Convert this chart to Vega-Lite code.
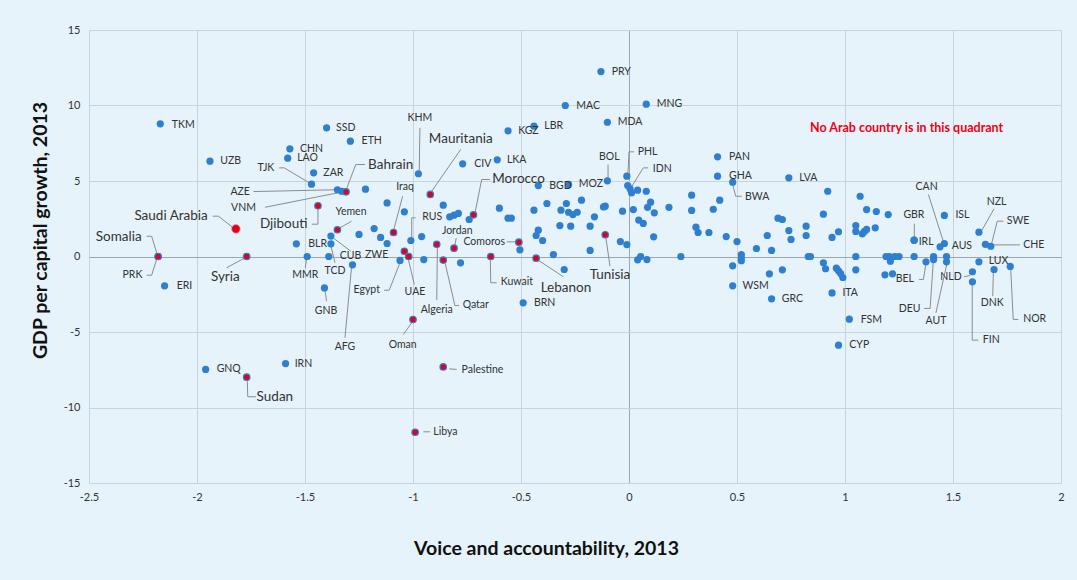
{
"$schema":"https://vega.github.io/schema/vega-lite/v6.json",
"width":972,"height":453,
"autosize":{"type":"none"},
"padding":{"left":89,"top":30,"right":16,"bottom":97},
"config":{"background":"#e6f3fb","view":{"stroke":null,"fill":"#e6f3fb"},"font":"Lato"},
"datasets":{
"points":[
{"c":"TKM","x":-2.17,"y":8.79,"a":false},{"c":"UZB","x":-1.94,"y":6.31,"a":false},{"c":"SSD","x":-1.40,"y":8.52,"a":false},{"c":"ETH","x":-1.29,"y":7.64,"a":false},{"c":"CHN","x":-1.57,"y":7.13,"a":false},{"c":"LAO","x":-1.58,"y":6.51,"a":false},{"c":"ZAR","x":-1.46,"y":5.54,"a":false},{"c":"TJK","x":-1.47,"y":4.79,"a":false},{"c":"AZE","x":-1.35,"y":4.42,"a":false},{"c":"VNM","x":-1.33,"y":4.32,"a":false},{"c":"PRK","x":-2.18,"y":0,"a":false},{"c":"ERI","x":-2.15,"y":-1.94,"a":false},{"c":"BLR","x":-1.54,"y":0.84,"a":false},{"c":"CUB","x":-1.38,"y":1.35,"a":false},{"c":"TCD","x":-1.38,"y":0.84,"a":false},{"c":"MMR","x":-1.49,"y":0,"a":false},{"c":"ZWE","x":-1.39,"y":0,"a":false},{"c":"AFG","x":-1.28,"y":-0.55,"a":false},{"c":"GNB","x":-1.41,"y":-2.08,"a":false},{"c":"GNQ","x":-1.96,"y":-7.48,"a":false},{"c":"IRN","x":-1.59,"y":-7.09,"a":false},{"c":"KHM","x":-0.975,"y":5.48,"a":false},{"c":"RUS","x":-1.01,"y":1.06,"a":false},{"c":"CIV","x":-0.77,"y":6.14,"a":false},{"c":"LKA","x":-0.61,"y":6.40,"a":false},{"c":"KGZ","x":-0.56,"y":8.32,"a":false},{"c":"LBR","x":-0.44,"y":8.63,"a":false},{"c":"MAC","x":-0.295,"y":10.0,"a":false},{"c":"MDA","x":-0.10,"y":8.89,"a":false},{"c":"PRY","x":-0.13,"y":12.25,"a":false},{"c":"MNG","x":0.08,"y":10.09,"a":false},{"c":"BGD","x":-0.42,"y":4.70,"a":false},{"c":"MOZ","x":-0.28,"y":4.77,"a":false},{"c":"BOL","x":-0.10,"y":5.01,"a":false},{"c":"PHL","x":-0.01,"y":5.32,"a":false},{"c":"IDN","x":0.005,"y":4.48,"a":false},{"c":"BRN","x":-0.49,"y":-3.07,"a":false},{"c":"PAN","x":0.41,"y":6.60,"a":false},{"c":"GHA","x":0.41,"y":5.32,"a":false},{"c":"BWA","x":0.48,"y":4.92,"a":false},{"c":"LVA","x":0.74,"y":5.21,"a":false},{"c":"WSM","x":0.48,"y":-1.94,"a":false},{"c":"GRC","x":0.66,"y":-2.80,"a":false},{"c":"ITA","x":0.94,"y":-2.41,"a":false},{"c":"FSM","x":1.02,"y":-4.15,"a":false},{"c":"CYP","x":0.97,"y":-5.87,"a":false},{"c":"GBR","x":1.32,"y":1.08,"a":false},{"c":"IRL","x":1.32,"y":1.08,"a":false},{"c":"BEL","x":1.375,"y":-0.35,"a":false},{"c":"DEU","x":1.41,"y":0,"a":false},{"c":"CAN","x":1.46,"y":0.86,"a":false},{"c":"AUS","x":1.44,"y":0.64,"a":false},{"c":"ISL","x":1.46,"y":2.72,"a":false},{"c":"AUT","x":1.47,"y":-0.35,"a":false},{"c":"NLD","x":1.59,"y":-1.01,"a":false},{"c":"FIN","x":1.59,"y":-1.68,"a":false},{"c":"LUX","x":1.62,"y":-0.35,"a":false},{"c":"NZL","x":1.62,"y":1.61,"a":false},{"c":"SWE","x":1.65,"y":0.81,"a":false},{"c":"CHE","x":1.675,"y":0.68,"a":false},{"c":"DNK","x":1.69,"y":-0.86,"a":false},{"c":"NOR","x":1.765,"y":-0.66,"a":false},
{"c":"","x":-1.22,"y":4.46,"a":false},{"c":"","x":-1.12,"y":3.55,"a":false},{"c":"","x":-1.04,"y":2.96,"a":false},{"c":"","x":-0.86,"y":3.40,"a":false},{"c":"","x":-0.83,"y":2.63,"a":false},{"c":"","x":-0.81,"y":2.74,"a":false},{"c":"","x":-0.79,"y":2.85,"a":false},{"c":"","x":-0.74,"y":2.45,"a":false},{"c":"","x":-0.60,"y":3.20,"a":false},{"c":"","x":-1.25,"y":1.46,"a":false},{"c":"","x":-1.18,"y":1.85,"a":false},{"c":"","x":-1.15,"y":1.26,"a":false},{"c":"","x":-1.12,"y":0.86,"a":false},{"c":"","x":-0.96,"y":1.32,"a":false},{"c":"","x":-0.95,"y":-0.20,"a":false},{"c":"","x":-0.78,"y":-0.42,"a":false},{"c":"","x":-1.06,"y":-0.26,"a":false},{"c":"","x":-0.56,"y":2.54,"a":false},{"c":"","x":-0.545,"y":2.54,"a":false},{"c":"","x":-0.44,"y":3.07,"a":false},{"c":"","x":-0.38,"y":3.51,"a":false},{"c":"","x":-0.32,"y":2.05,"a":false},{"c":"","x":-0.315,"y":3.07,"a":false},{"c":"","x":-0.29,"y":3.51,"a":false},{"c":"","x":-0.28,"y":2.93,"a":false},{"c":"","x":-0.26,"y":2.78,"a":false},{"c":"","x":-0.24,"y":2.93,"a":false},{"c":"","x":-0.22,"y":3.73,"a":false},{"c":"","x":-0.27,"y":2.01,"a":false},{"c":"","x":-0.18,"y":2.01,"a":false},{"c":"","x":-0.16,"y":2.63,"a":false},{"c":"","x":-0.11,"y":3.33,"a":false},{"c":"","x":-0.118,"y":3.28,"a":false},{"c":"","x":-0.03,"y":3.00,"a":false},{"c":"","x":-0.04,"y":0.99,"a":false},{"c":"","x":-0.01,"y":0.79,"a":false},{"c":"","x":-0.18,"y":0.40,"a":false},{"c":"","x":-0.43,"y":1.39,"a":false},{"c":"","x":-0.42,"y":1.74,"a":false},{"c":"","x":-0.40,"y":1.06,"a":false},{"c":"","x":-0.505,"y":0.44,"a":false},{"c":"","x":-0.35,"y":0.13,"a":false},{"c":"","x":-0.30,"y":-0.86,"a":false},{"c":"","x":-0.006,"y":4.70,"a":false},{"c":"","x":0.012,"y":4.22,"a":false},{"c":"","x":0.04,"y":4.39,"a":false},{"c":"","x":0.08,"y":4.32,"a":false},{"c":"","x":0.02,"y":3.11,"a":false},{"c":"","x":0.045,"y":2.41,"a":false},{"c":"","x":0.066,"y":2.19,"a":false},{"c":"","x":0.086,"y":3.26,"a":false},{"c":"","x":0.10,"y":3.60,"a":false},{"c":"","x":0.117,"y":2.89,"a":false},{"c":"","x":0.114,"y":1.30,"a":false},{"c":"","x":0.185,"y":3.26,"a":false},{"c":"","x":0.04,"y":-0.22,"a":false},{"c":"","x":0.054,"y":0,"a":false},{"c":"","x":0.083,"y":-0.2,"a":false},{"c":"","x":0.24,"y":0,"a":false},{"c":"","x":0.29,"y":4.06,"a":false},{"c":"","x":0.29,"y":3.05,"a":false},{"c":"","x":0.31,"y":1.94,"a":false},{"c":"","x":0.32,"y":1.59,"a":false},{"c":"","x":0.37,"y":1.59,"a":false},{"c":"","x":0.39,"y":3.13,"a":false},{"c":"","x":0.42,"y":3.73,"a":false},{"c":"","x":0.45,"y":1.32,"a":false},{"c":"","x":0.50,"y":0.99,"a":false},{"c":"","x":0.52,"y":0.13,"a":false},{"c":"","x":0.52,"y":-0.09,"a":false},{"c":"","x":0.52,"y":-0.28,"a":false},{"c":"","x":0.48,"y":-0.62,"a":false},{"c":"","x":0.59,"y":0.53,"a":false},{"c":"","x":0.64,"y":1.39,"a":false},{"c":"","x":0.66,"y":0.40,"a":false},{"c":"","x":0.65,"y":-1.15,"a":false},{"c":"","x":0.71,"y":-0.88,"a":false},{"c":"","x":0.69,"y":2.54,"a":false},{"c":"","x":0.71,"y":2.45,"a":false},{"c":"","x":0.74,"y":1.72,"a":false},{"c":"","x":0.75,"y":1.13,"a":false},{"c":"","x":0.82,"y":2.01,"a":false},{"c":"","x":0.82,"y":1.39,"a":false},{"c":"","x":0.83,"y":0,"a":false},{"c":"","x":0.84,"y":0,"a":false},{"c":"","x":0.92,"y":4.32,"a":false},{"c":"","x":0.90,"y":2.80,"a":false},{"c":"","x":0.94,"y":1.26,"a":false},{"c":"","x":0.97,"y":1.64,"a":false},{"c":"","x":0.90,"y":-0.42,"a":false},{"c":"","x":0.91,"y":-0.81,"a":false},{"c":"","x":0.96,"y":-0.77,"a":false},{"c":"","x":0.97,"y":-0.95,"a":false},{"c":"","x":0.98,"y":-1.13,"a":false},{"c":"","x":0.99,"y":-1.39,"a":false},{"c":"","x":1.07,"y":3.99,"a":false},{"c":"","x":1.10,"y":3.11,"a":false},{"c":"","x":1.145,"y":2.98,"a":false},{"c":"","x":1.20,"y":2.78,"a":false},{"c":"","x":1.05,"y":2.05,"a":false},{"c":"","x":1.05,"y":1.66,"a":false},{"c":"","x":1.08,"y":1.50,"a":false},{"c":"","x":1.09,"y":1.66,"a":false},{"c":"","x":1.10,"y":1.79,"a":false},{"c":"","x":1.14,"y":1.90,"a":false},{"c":"","x":1.05,"y":0,"a":false},{"c":"","x":1.05,"y":-0.88,"a":false},{"c":"","x":1.19,"y":0,"a":false},{"c":"","x":1.205,"y":0,"a":false},{"c":"","x":1.21,"y":-0.31,"a":false},{"c":"","x":1.23,"y":0,"a":false},{"c":"","x":1.25,"y":0,"a":false},{"c":"","x":1.185,"y":-1.21,"a":false},{"c":"","x":1.22,"y":-1.15,"a":false},{"c":"","x":1.32,"y":0,"a":false},{"c":"","x":1.41,"y":-0.2,"a":false},{"c":"","x":1.47,"y":0,"a":false},
{"c":"Somalia","x":-2.18,"y":0,"a":true},{"c":"Syria","x":-1.77,"y":0,"a":true},{"c":"Saudi Arabia","x":-1.82,"y":1.83,"a":true},{"c":"Bahrain","x":-1.31,"y":4.28,"a":true},{"c":"Djibouti","x":-1.44,"y":3.36,"a":true},{"c":"Yemen","x":-1.35,"y":1.77,"a":true},{"c":"Iraq","x":-1.09,"y":1.59,"a":true},{"c":"Mauritania","x":-0.92,"y":4.11,"a":true},{"c":"Morocco","x":-0.72,"y":2.76,"a":true},{"c":"Egypt","x":-1.04,"y":0.35,"a":true},{"c":"UAE","x":-1.02,"y":0,"a":true},{"c":"Algeria","x":-0.89,"y":0.81,"a":true},{"c":"Jordan","x":-0.81,"y":0.55,"a":true},{"c":"Qatar","x":-0.86,"y":-0.24,"a":true},{"c":"Kuwait","x":-0.64,"y":0,"a":true},{"c":"Comoros","x":-0.51,"y":0.95,"a":true},{"c":"Lebanon","x":-0.43,"y":-0.11,"a":true},{"c":"Tunisia","x":-0.11,"y":1.44,"a":true},{"c":"Oman","x":-1.00,"y":-4.17,"a":true},{"c":"Palestine","x":-0.86,"y":-7.31,"a":true},{"c":"Libya","x":-0.99,"y":-11.64,"a":true},{"c":"Sudan","x":-1.77,"y":-7.99,"a":true}
],
"leaders":[
{"x":-1.619,"y":5.87,"x2":-1.596,"y2":5.87},{"x":-1.596,"y":5.87,"x2":-1.47,"y2":4.79},
{"x":-1.739,"y":4.30,"x2":-1.353,"y2":4.42},
{"x":-1.685,"y":3.26,"x2":-1.333,"y2":4.26},
{"x":-1.222,"y":6.09,"x2":-1.265,"y2":6.09},{"x":-1.265,"y":6.09,"x2":-1.313,"y2":4.28},
{"x":-1.927,"y":2.67,"x2":-1.901,"y2":2.67},{"x":-1.901,"y":2.67,"x2":-1.832,"y2":1.90},
{"x":-1.469,"y":2.14,"x2":-1.44,"y2":2.14},{"x":-1.44,"y":2.14,"x2":-1.44,"y2":3.36},
{"x":-2.233,"y":1.34,"x2":-2.21,"y2":1.34},{"x":-2.21,"y":1.34,"x2":-2.184,"y2":0.13},
{"x":-2.233,"y":-1.24,"x2":-2.21,"y2":-1.24},{"x":-2.21,"y":-1.24,"x2":-2.187,"y2":-0.2},
{"x":-1.863,"y":-0.75,"x2":-1.778,"y2":-0.09},
{"x":-1.284,"y":2.34,"x2":-1.338,"y2":1.90},
{"x":-1.499,"y":-0.75,"x2":-1.492,"y2":-0.15},
{"x":-1.361,"y":-0.42,"x2":-1.381,"y2":0.75},
{"x":-1.376,"y":1.30,"x2":-1.288,"y2":0.35},
{"x":-0.968,"y":8.52,"x2":-0.971,"y2":5.65},
{"x":-1.048,"y":3.99,"x2":-1.091,"y2":1.68},
{"x":-1.134,"y":-2.23,"x2":-1.11,"y2":-2.23},{"x":-1.11,"y":-2.23,"x2":-1.051,"y2":-0.07},
{"x":-0.994,"y":-1.85,"x2":-1.022,"y2":-0.15},
{"x":-0.779,"y":7.09,"x2":-0.921,"y2":4.17},
{"x":-0.644,"y":5.10,"x2":-0.682,"y2":5.10},{"x":-0.682,"y":5.10,"x2":-0.713,"y2":2.89},
{"x":-0.988,"y":2.56,"x2":-1.006,"y2":2.56},{"x":-1.006,"y":2.56,"x2":-1.006,"y2":1.17},
{"x":-0.80,"y":1.22,"x2":-0.807,"y2":0.68},
{"x":-0.566,"y":0.97,"x2":-0.517,"y2":0.97},
{"x":-0.613,"y":-1.74,"x2":-0.64,"y2":-1.74},{"x":-0.64,"y":-1.74,"x2":-0.642,"y2":-0.15},
{"x":-0.304,"y":-1.34,"x2":-0.425,"y2":-0.2},
{"x":-0.088,"y":-0.64,"x2":-0.108,"y2":1.34},
{"x":-0.097,"y":6.09,"x2":-0.097,"y2":5.10},
{"x":0.023,"y":6.93,"x2":0,"y2":6.93},{"x":0,"y":6.93,"x2":-0.005,"y2":5.48},
{"x":0.089,"y":5.87,"x2":0.066,"y2":5.87},{"x":0.066,"y":5.87,"x2":0.014,"y2":4.66},
{"x":0.522,"y":3.99,"x2":0.494,"y2":3.99},{"x":0.494,"y":3.99,"x2":0.478,"y2":4.88},
{"x":-0.89,"y":-2.89,"x2":-0.887,"y2":0.68},
{"x":-0.786,"y":-3.25,"x2":-0.806,"y2":-3.25},{"x":-0.806,"y":-3.25,"x2":-0.852,"y2":-0.38},
{"x":-1.045,"y":-5.17,"x2":-1.006,"y2":-4.39},
{"x":-0.798,"y":-7.48,"x2":-0.832,"y2":-7.44},
{"x":-0.952,"y":-11.61,"x2":-0.921,"y2":-11.61},
{"x":-1.727,"y":-9.29,"x2":-1.765,"y2":-9.29},{"x":-1.765,"y":-9.29,"x2":-1.767,"y2":-8.26},
{"x":-1.40,"y":-2.96,"x2":-1.407,"y2":-2.30},
{"x":-1.315,"y":-5.38,"x2":-1.284,"y2":-0.64},
{"x":1.386,"y":4.11,"x2":1.455,"y2":1.01},
{"x":1.321,"y":2.17,"x2":1.321,"y2":1.24},
{"x":1.343,"y":-1.52,"x2":1.363,"y2":-1.52},{"x":1.363,"y":-1.52,"x2":1.374,"y2":-0.53},
{"x":1.366,"y":-3.44,"x2":1.394,"y2":-3.44},{"x":1.394,"y":-3.44,"x2":1.409,"y2":-0.25},
{"x":1.421,"y":-3.73,"x2":1.471,"y2":-0.53},
{"x":1.551,"y":-1.34,"x2":1.579,"y2":-1.26},
{"x":1.617,"y":-5.54,"x2":1.589,"y2":-5.54},{"x":1.589,"y":-5.54,"x2":1.589,"y2":-1.85},
{"x":1.69,"y":3.16,"x2":1.633,"y2":1.72},
{"x":1.733,"y":2.34,"x2":1.705,"y2":2.34},{"x":1.705,"y":2.34,"x2":1.679,"y2":0.86},
{"x":1.81,"y":0.77,"x2":1.679,"y2":0.77},
{"x":1.684,"y":-2.63,"x2":1.687,"y2":-0.97},
{"x":1.802,"y":-4.17,"x2":1.779,"y2":-4.17},{"x":1.779,"y":-4.17,"x2":1.767,"y2":-0.81}
],
"labelsL":[
{"t":"TKM","x":-2.117,"y":8.74},{"t":"UZB","x":-1.892,"y":6.31},{"t":"SSD","x":-1.356,"y":8.52},{"t":"ETH","x":-1.238,"y":7.64},{"t":"CHN","x":-1.523,"y":7.13},{"t":"LAO","x":-1.536,"y":6.51},{"t":"ZAR","x":-1.415,"y":5.56},{"t":"Bahrain","x":-1.208,"y":6.09},{"t":"ERI","x":-2.094,"y":-1.94},{"t":"BLR","x":-1.485,"y":0.84},{"t":"CUB","x":-1.339,"y":0.02},{"t":"ZWE","x":-1.222,"y":0.07},{"t":"CIV","x":-0.716,"y":6.14},{"t":"LKA","x":-0.565,"y":6.40},{"t":"KGZ","x":-0.513,"y":8.32},{"t":"LBR","x":-0.392,"y":8.63},{"t":"MAC","x":-0.244,"y":10.0},{"t":"MDA","x":-0.052,"y":8.89},{"t":"Morocco","x":-0.633,"y":5.10},{"t":"BGD","x":-0.369,"y":4.70},{"t":"MOZ","x":-0.233,"y":4.77},{"t":"RUS","x":-0.957,"y":2.63},{"t":"Kuwait","x":-0.594,"y":-1.70},{"t":"Lebanon","x":-0.409,"y":-2.10},{"t":"Qatar","x":-0.77,"y":-3.20},{"t":"Palestine","x":-0.775,"y":-7.53},{"t":"Libya","x":-0.906,"y":-11.61},{"t":"Sudan","x":-1.724,"y":-9.29},{"t":"GNQ","x":-1.909,"y":-7.48},{"t":"IRN","x":-1.548,"y":-7.09},{"t":"BRN","x":-0.44,"y":-3.07},{"t":"PRY","x":-0.08,"y":12.25},{"t":"MNG","x":0.128,"y":10.09},{"t":"PHL","x":0.04,"y":6.93},{"t":"IDN","x":0.11,"y":5.81},{"t":"PAN","x":0.463,"y":6.60},{"t":"GHA","x":0.463,"y":5.32},{"t":"BWA","x":0.537,"y":3.95},{"t":"LVA","x":0.788,"y":5.21},{"t":"WSM","x":0.525,"y":-1.94},{"t":"GRC","x":0.707,"y":-2.80},{"t":"ITA","x":0.988,"y":-2.43},{"t":"FSM","x":1.073,"y":-4.19},{"t":"CYP","x":1.02,"y":-5.87},{"t":"IRL","x":1.341,"y":0.95},{"t":"ISL","x":1.511,"y":2.74},{"t":"AUS","x":1.494,"y":0.68},{"t":"FIN","x":1.638,"y":-5.54},{"t":"SWE","x":1.749,"y":2.38},{"t":"CHE","x":1.825,"y":0.79},{"t":"LUX","x":1.665,"y":-0.31},{"t":"NOR","x":1.825,"y":-4.17}
],
"labelsR":[
{"t":"TJK","x":-1.642,"y":5.87},{"t":"AZE","x":-1.755,"y":4.30},{"t":"VNM","x":-1.727,"y":3.23},{"t":"Saudi Arabia","x":-1.95,"y":2.67},{"t":"Djibouti","x":-1.488,"y":2.14},{"t":"Somalia","x":-2.256,"y":1.28},{"t":"PRK","x":-2.253,"y":-1.24},{"t":"Egypt","x":-1.153,"y":-2.23},{"t":"Comoros","x":-0.574,"y":0.99},{"t":"BEL","x":1.319,"y":-1.52},{"t":"DEU","x":1.35,"y":-3.46},{"t":"NLD","x":1.54,"y":-1.34}
],
"labelsC":[
{"t":"Yemen","x":-1.287,"y":2.93},{"t":"Syria","x":-1.869,"y":-1.34},{"t":"MMR","x":-1.499,"y":-1.24},{"t":"TCD","x":-1.361,"y":-0.99},{"t":"KHM","x":-0.968,"y":9.14},{"t":"Iraq","x":-1.037,"y":4.59},{"t":"UAE","x":-0.991,"y":-2.32},{"t":"Mauritania","x":-0.779,"y":7.79},{"t":"Jordan","x":-0.795,"y":1.66},{"t":"Tunisia","x":-0.088,"y":-1.24},{"t":"BOL","x":-0.091,"y":6.60},{"t":"Algeria","x":-0.89,"y":-3.51},{"t":"Oman","x":-1.048,"y":-5.83},{"t":"GNB","x":-1.403,"y":-3.58},{"t":"AFG","x":-1.315,"y":-5.98},{"t":"CAN","x":1.378,"y":4.62},{"t":"GBR","x":1.319,"y":2.72},{"t":"AUT","x":1.421,"y":-4.24},{"t":"NZL","x":1.702,"y":3.60},{"t":"DNK","x":1.682,"y":-3.07}
],
"note":[{"t":"No Arab country is in this quadrant","x":0.838,"y":8.54}]
},
"layer":[
{"data":{"name":"leaders"},"mark":{"type":"rule","color":"#8c8c8c","strokeWidth":1},
 "encoding":{
  "x":{"field":"x","type":"quantitative","scale":{"domain":[-2.5,2],"nice":false,"zero":false},
   "axis":{"values":[-2.5,-2,-1.5,-1,-0.5,0,0.5,1,1.5,2],"labelExpr":"'' + datum.value","grid":true,"gridColor":{"condition":{"test":"datum.value === 0","value":"#9da7b0"},"value":"#c8d3dc"},"gridWidth":1,"domain":false,"ticks":false,"labelFont":"Lato","labelFontSize":11,"labelColor":"#333333","labelPadding":8,"labelFlush":false,
    "title":"Voice and accountability, 2013","titleFont":"Lato","titleFontSize":19.5,"titleFontWeight":"bold","titleColor":"#111111","titleX":457,"titleY":65,"titleBaseline":"middle","titleAlign":"center"}},
  "y":{"field":"y","type":"quantitative","scale":{"domain":[-15,15],"nice":false,"zero":false},
   "axis":{"values":[-15,-10,-5,0,5,10,15],"labelExpr":"'' + datum.value","grid":true,"gridColor":{"condition":{"test":"datum.value === 0","value":"#9da7b0"},"value":"#c8d3dc"},"gridWidth":1,"domain":false,"ticks":false,"labelFont":"Lato","labelFontSize":11,"labelColor":"#333333","labelPadding":9,"labelFlush":false,
    "title":"GDP per capital growth, 2013","titleFont":"Lato","titleFontSize":19.5,"titleFontWeight":"bold","titleColor":"#111111","titleX":-49,"titleY":200,"titleAngle":270,"titleBaseline":"middle","titleAlign":"center"}},
  "x2":{"field":"x2"},"y2":{"field":"y2"}}},
{"data":{"name":"points"},"transform":[{"filter":"!datum.a"}],"mark":{"type":"circle","size":52,"color":"#2f7fd0","opacity":1},
 "encoding":{"x":{"field":"x","type":"quantitative"},"y":{"field":"y","type":"quantitative"}}},
{"data":{"name":"points"},"transform":[{"filter":"datum.a && datum.c !== 'Saudi Arabia'"}],"mark":{"type":"circle","size":42,"fill":"#e2001a","stroke":"#2f7fd0","strokeWidth":1.2,"opacity":1},
 "encoding":{"x":{"field":"x","type":"quantitative"},"y":{"field":"y","type":"quantitative"}}},
{"data":{"name":"points"},"transform":[{"filter":"datum.c === 'Saudi Arabia'"}],"mark":{"type":"circle","size":75,"fill":"#e2001a","stroke":"#f0a0a0","strokeWidth":0.8,"opacity":1},
 "encoding":{"x":{"field":"x","type":"quantitative"},"y":{"field":"y","type":"quantitative"}}},
{"data":{"name":"labelsL"},"transform":[{"filter":{"field":"t","oneOf":["Bahrain","Morocco","Lebanon","Sudan"]}}],"mark":{"type":"text","align":"left","baseline":"middle","font":"Lato","fontSize":13.5,"color":"#333333"},
 "encoding":{"x":{"field":"x","type":"quantitative"},"y":{"field":"y","type":"quantitative"},"text":{"field":"t"}}},
{"data":{"name":"labelsL"},"transform":[{"filter":{"not":{"field":"t","oneOf":["Bahrain","Morocco","Lebanon","Sudan"]}}}],"mark":{"type":"text","align":"left","baseline":"middle","font":"Lato","fontSize":10.5,"color":"#333333"},
 "encoding":{"x":{"field":"x","type":"quantitative"},"y":{"field":"y","type":"quantitative"},"text":{"field":"t"}}},
{"data":{"name":"labelsR"},"transform":[{"filter":{"field":"t","oneOf":["Saudi Arabia","Djibouti","Somalia"]}}],"mark":{"type":"text","align":"right","baseline":"middle","font":"Lato","fontSize":13.5,"color":"#333333"},
 "encoding":{"x":{"field":"x","type":"quantitative"},"y":{"field":"y","type":"quantitative"},"text":{"field":"t"}}},
{"data":{"name":"labelsR"},"transform":[{"filter":{"not":{"field":"t","oneOf":["Saudi Arabia","Djibouti","Somalia"]}}}],"mark":{"type":"text","align":"right","baseline":"middle","font":"Lato","fontSize":10.5,"color":"#333333"},
 "encoding":{"x":{"field":"x","type":"quantitative"},"y":{"field":"y","type":"quantitative"},"text":{"field":"t"}}},
{"data":{"name":"labelsC"},"transform":[{"filter":{"field":"t","oneOf":["Syria","Mauritania","Tunisia"]}}],"mark":{"type":"text","align":"center","baseline":"middle","font":"Lato","fontSize":13.5,"color":"#333333"},
 "encoding":{"x":{"field":"x","type":"quantitative"},"y":{"field":"y","type":"quantitative"},"text":{"field":"t"}}},
{"data":{"name":"labelsC"},"transform":[{"filter":{"not":{"field":"t","oneOf":["Syria","Mauritania","Tunisia"]}}}],"mark":{"type":"text","align":"center","baseline":"middle","font":"Lato","fontSize":10.5,"color":"#333333"},
 "encoding":{"x":{"field":"x","type":"quantitative"},"y":{"field":"y","type":"quantitative"},"text":{"field":"t"}}},
{"data":{"name":"note"},"mark":{"type":"text","align":"left","baseline":"middle","font":"Lato","fontSize":12.5,"fontWeight":"bold","color":"#f00014"},
 "encoding":{"x":{"field":"x","type":"quantitative"},"y":{"field":"y","type":"quantitative"},"text":{"field":"t"}}}
]
}
